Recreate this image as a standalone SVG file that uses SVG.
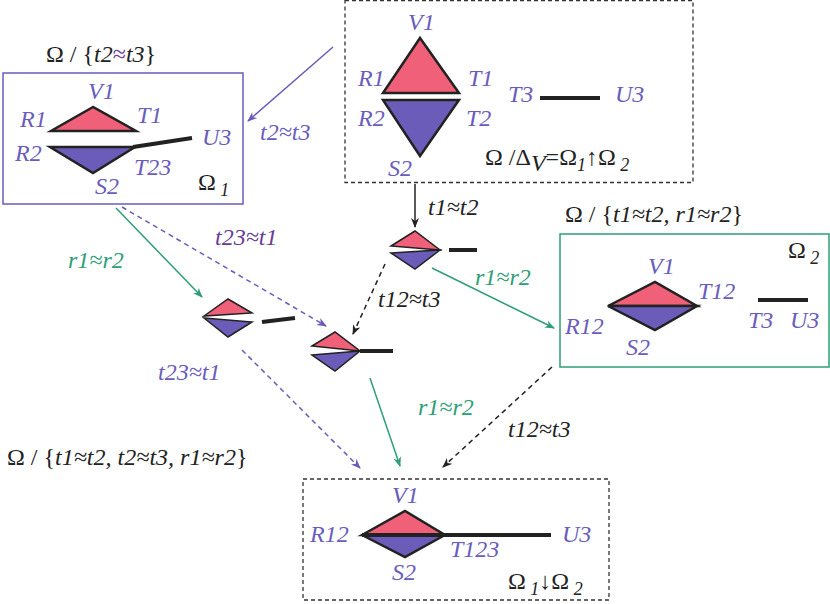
<svg xmlns="http://www.w3.org/2000/svg" width="830" height="604" viewBox="0 0 830 604">
<style>
text{font-family:"Liberation Serif",serif;font-style:italic;font-size:24px;fill:#6a5cbc}
.k{fill:#222}.g{fill:#2e9e78}.d{fill:#6a3c94}.u{font-style:normal}
.pk{fill:#f06078;stroke:#222;stroke-width:2.5;stroke-linejoin:miter}
.bl{fill:#6a5cb8;stroke:#222;stroke-width:2.5}
.pk2{fill:#f06078;stroke:#222;stroke-width:1.5}
.bl2{fill:#6a5cb8;stroke:#222;stroke-width:1.5}
.bar{stroke:#222;stroke-width:4}
.box{fill:none;stroke:#333;stroke-width:1.3;stroke-dasharray:4 3}
.ap{stroke:#6a5cbc;stroke-width:1.5;fill:none}
.ag{stroke:#2e9e78;stroke-width:1.5;fill:none}
.ak{stroke:#222;stroke-width:1.5;fill:none}
.dash{stroke-dasharray:5 4}
</style>
<defs>
<marker id="mp" markerWidth="10" markerHeight="8" refX="9" refY="4" orient="auto" markerUnits="userSpaceOnUse" viewBox="0 0 10 8"><path d="M0,0L10,4L0,8L3,4z" fill="#6a5cbc"/></marker>
<marker id="mg" markerWidth="10" markerHeight="8" refX="9" refY="4" orient="auto" markerUnits="userSpaceOnUse" viewBox="0 0 10 8"><path d="M0,0L10,4L0,8L3,4z" fill="#2e9e78"/></marker>
<marker id="mk" markerWidth="10" markerHeight="8" refX="9" refY="4" orient="auto" markerUnits="userSpaceOnUse" viewBox="0 0 10 8"><path d="M0,0L10,4L0,8L3,4z" fill="#222"/></marker>
</defs>
<g id="connectors">
<line class="ap" x1="333" y1="47" x2="248" y2="121" marker-end="url(#mp)"/>
<line class="ak" x1="415" y1="184" x2="415" y2="227" marker-end="url(#mk)"/>
<line class="ag" x1="432" y1="268" x2="554" y2="328" marker-end="url(#mg)"/>
<line class="ag" x1="116" y1="208" x2="202" y2="297" marker-end="url(#mg)"/>
<line class="ap dash" x1="122" y1="207" x2="326" y2="326" marker-end="url(#mp)"/>
<line class="ak dash" x1="385" y1="264" x2="353" y2="334" marker-end="url(#mk)"/>
<line class="ap dash" x1="242" y1="350" x2="360" y2="468" marker-end="url(#mp)"/>
<line class="ag" x1="370" y1="378" x2="400" y2="466" marker-end="url(#mg)"/>
<line class="ak dash" x1="552" y1="367" x2="443" y2="467" marker-end="url(#mk)"/>
<text x="260" y="140">t2≈t3</text>
<text x="428" y="215" class="k">t1≈t2</text>
<text x="475" y="285" class="g">r1≈r2</text>
<text x="68" y="268" class="g">r1≈r2</text>
<text x="215" y="245" class="d">t23≈t1</text>
<text x="378" y="307" class="k">t12≈t3</text>
<text x="158" y="380">t23≈t1</text>
<text x="418" y="415" class="g">r1≈r2</text>
<text x="508" y="437" class="k">t12≈t3</text>
</g>
<g id="omega">
<rect class="box" x="345" y="0.5" width="348" height="182"/>
<polygon class="pk" points="420,38 383,93 459,93"/>
<polygon class="bl" points="383,100 459,100 420,156"/>
<line class="bar" x1="540" y1="98" x2="600" y2="98"/>
<text x="408" y="30">V1</text><text x="358" y="86">R1</text><text x="468" y="86">T1</text>
<text x="358" y="126">R2</text><text x="466" y="126">T2</text><text x="388" y="176">S2</text>
<text x="508" y="102">T3</text><text x="615" y="102">U3</text>
<text x="485" y="165" class="k u">Ω /Δ<tspan font-style="italic" dy="6">V</tspan><tspan dy="-6" font-style="normal">=Ω</tspan><tspan font-style="italic" font-size="18" dy="6">1</tspan><tspan dy="-6" font-style="normal">↑Ω</tspan><tspan font-style="italic" font-size="18" dy="6"> 2</tspan></text>
</g>
<g id="omega1">
<text x="46" y="62" class="k u">Ω / {<tspan font-style="italic">t2</tspan><tspan fill="#6a3c94">≈</tspan><tspan font-style="italic">t3</tspan>}</text>
<rect x="3" y="73" width="240" height="131" fill="none" stroke="#6a5cbc" stroke-width="1.5"/>
<polygon class="pk" points="93,107 51,131 136,131"/>
<polygon class="bl" points="50,147 135,147 93,173"/>
<line class="bar" x1="133" y1="147" x2="192" y2="138"/>
<text x="88" y="99">V1</text><text x="20" y="127">R1</text><text x="137" y="123">T1</text>
<text x="15" y="161">R2</text><text x="134" y="175">T23</text><text x="95" y="194">S2</text><text x="202" y="145">U3</text>
<text x="198" y="190" class="k u">Ω<tspan font-style="italic" font-size="18" dy="6"> 1</tspan></text>
</g>
<g id="step1">
<polygon class="pk2" points="391,246 415,231 440,250"/>
<polygon class="bl2" points="391,253 440,250 415,269"/>
<line class="bar" x1="449" y1="250" x2="477" y2="250" stroke-width="3"/>
</g>
<g id="step2">
<polygon class="pk2" points="204,316 228,299 252,313"/>
<polygon class="bl2" points="204,318 252,322 228,337"/>
<line class="bar" x1="262" y1="322" x2="295" y2="318" stroke-width="3"/>
</g>
<g id="step3">
<polygon class="pk2" points="312,346 335,332 360,351"/>
<polygon class="bl2" points="312,355 360,351 335,371"/>
<line class="bar" x1="360" y1="351" x2="393" y2="351" stroke-width="3"/>
</g>
<g id="omega2">
<text x="565" y="222" class="k u">Ω / {<tspan font-style="italic">t1≈t2, r1≈r2</tspan>}</text>
<rect x="560" y="234" width="269" height="133" fill="none" stroke="#2e9e78" stroke-width="1.5"/>
<polygon class="pk" points="608,306 655,282 697,306"/>
<polygon class="bl" points="608,306 697,306 655,330"/>
<line class="bar" x1="758" y1="300" x2="808" y2="300"/>
<text x="648" y="274">V1</text><text x="698" y="299">T12</text><text x="565" y="334">R12</text>
<text x="626" y="355">S2</text><text x="748" y="328">T3</text><text x="790" y="328">U3</text>
<text x="788" y="258" class="k u">Ω<tspan font-style="italic" font-size="18" dy="6"> 2</tspan></text>
</g>
<g id="result">
<text x="7" y="465" class="k u">Ω / {<tspan font-style="italic">t1≈t2, t2≈t3, r1≈r2</tspan>}</text>
<rect class="box" x="303" y="479" width="306" height="121"/>
<polygon class="pk" points="362,535 405,511 445,535"/>
<polygon class="bl" points="362,535 445,535 405,557"/>
<line class="bar" x1="362" y1="535" x2="551" y2="535"/>
<text x="392" y="503">V1</text><text x="310" y="542">R12</text><text x="450" y="557">T123</text>
<text x="392" y="580">S2</text><text x="562" y="542">U3</text>
<text x="508" y="589" class="k u">Ω<tspan font-style="italic" font-size="18" dy="6"> 1</tspan><tspan dy="-6">↓Ω</tspan><tspan font-style="italic" font-size="18" dy="6"> 2</tspan></text>
</g>
</svg>
